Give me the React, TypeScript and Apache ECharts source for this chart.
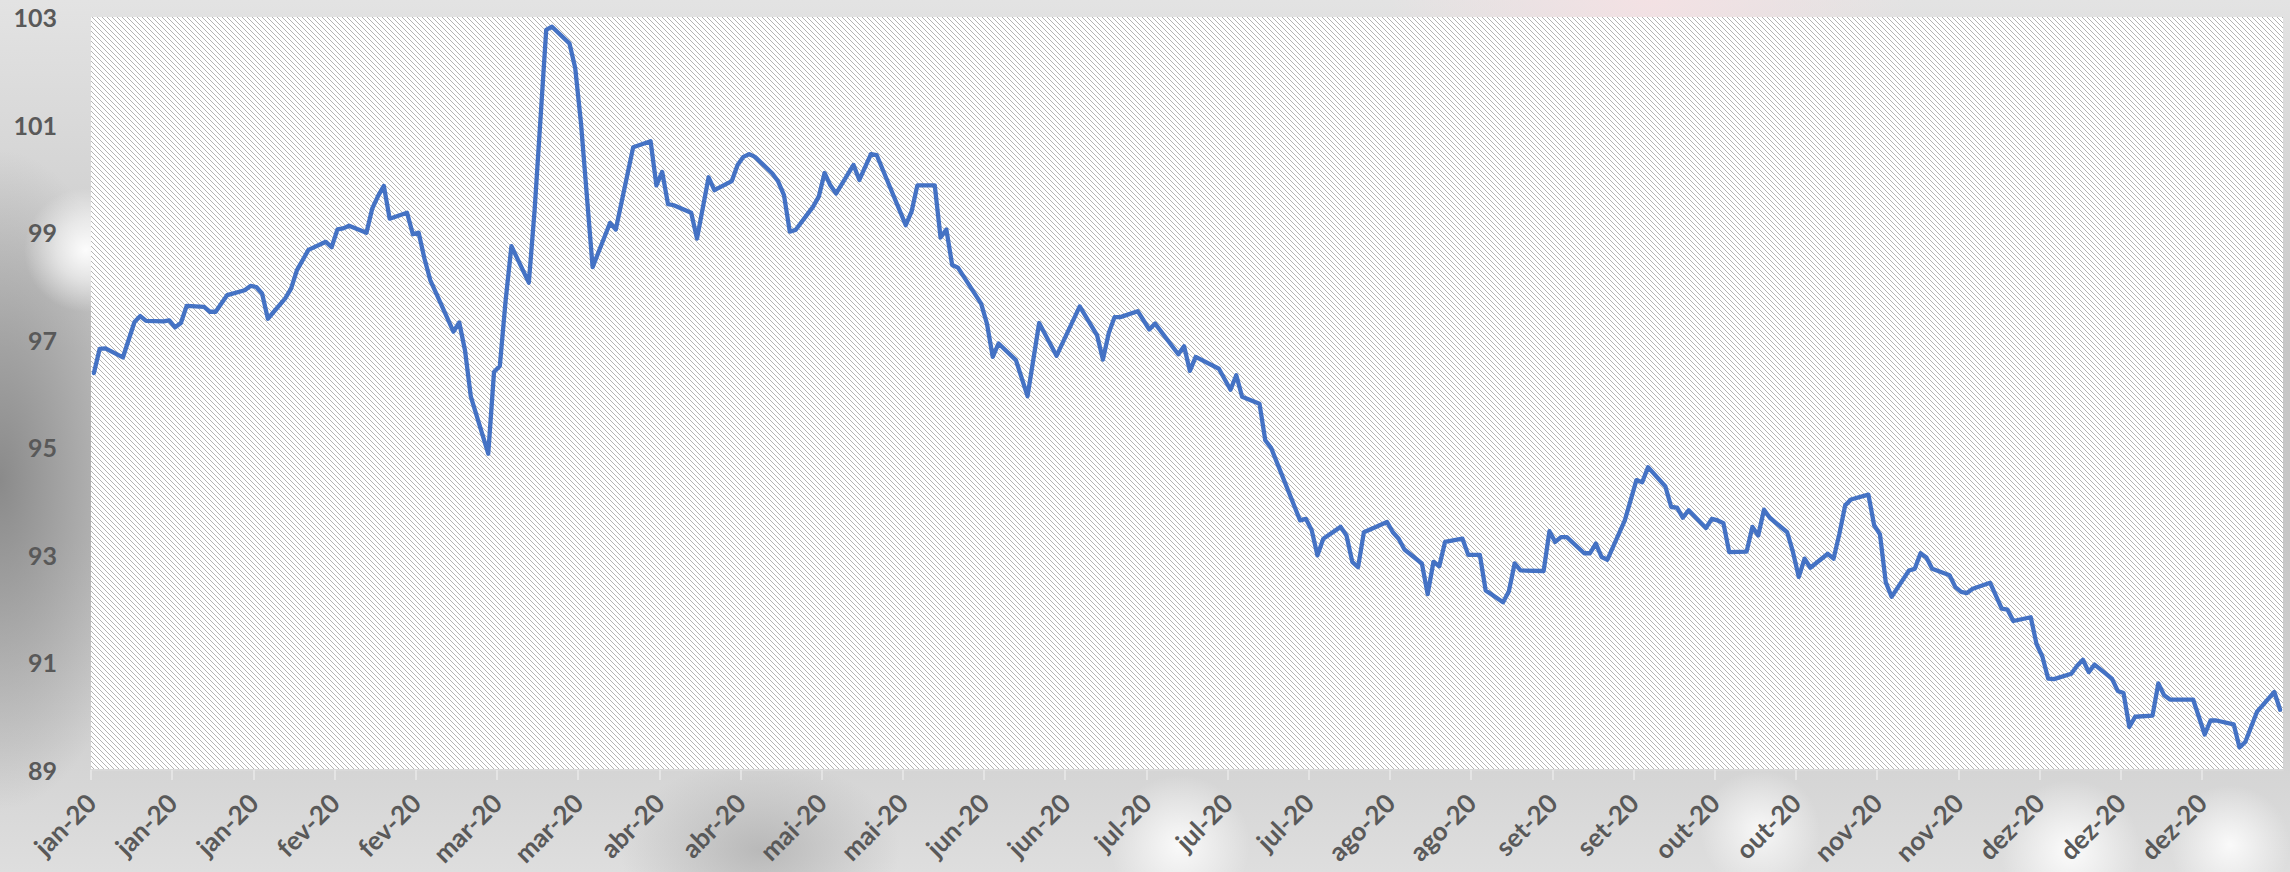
import React, { useEffect, useRef } from "react";
import * as echarts from "echarts";

// ---- data ----
const DATES: string[] = [
  "2020-01-01","2020-01-02","2020-01-03","2020-01-06","2020-01-08","2020-01-09","2020-01-10","2020-01-13","2020-01-14","2020-01-15",
  "2020-01-16","2020-01-17","2020-01-20","2020-01-21","2020-01-22","2020-01-24","2020-01-27","2020-01-28","2020-01-29","2020-01-30",
  "2020-01-31","2020-02-03","2020-02-04","2020-02-05","2020-02-07","2020-02-10","2020-02-11","2020-02-12","2020-02-13","2020-02-14",
  "2020-02-17","2020-02-18","2020-02-19","2020-02-20","2020-02-21","2020-02-24","2020-02-25","2020-02-26","2020-02-27","2020-02-28",
  "2020-03-03","2020-03-04","2020-03-05","2020-03-06","2020-03-09","2020-03-10","2020-03-11","2020-03-12","2020-03-13","2020-03-16",
  "2020-03-17","2020-03-19","2020-03-20","2020-03-23","2020-03-24","2020-03-25","2020-03-27","2020-03-30","2020-03-31","2020-04-03",
  "2020-04-06","2020-04-07","2020-04-08","2020-04-09","2020-04-10","2020-04-13","2020-04-14","2020-04-16","2020-04-17","2020-04-20",
  "2020-04-21","2020-04-22","2020-04-23","2020-04-24","2020-04-27","2020-04-28","2020-04-29","2020-04-30","2020-05-01","2020-05-04",
  "2020-05-05","2020-05-06","2020-05-07","2020-05-08","2020-05-11","2020-05-12","2020-05-14","2020-05-15","2020-05-20","2020-05-21",
  "2020-05-22","2020-05-25","2020-05-26","2020-05-27","2020-05-28","2020-05-29","2020-06-02","2020-06-03","2020-06-04","2020-06-05",
  "2020-06-08","2020-06-10","2020-06-12","2020-06-15","2020-06-19","2020-06-22","2020-06-23","2020-06-24","2020-06-25","2020-06-26",
  "2020-06-29","2020-07-01","2020-07-02","2020-07-06","2020-07-07","2020-07-08","2020-07-09","2020-07-13","2020-07-15","2020-07-16",
  "2020-07-17","2020-07-20","2020-07-21","2020-07-22","2020-07-27","2020-07-28","2020-07-29","2020-07-30","2020-07-31","2020-08-03",
  "2020-08-04","2020-08-05","2020-08-06","2020-08-07","2020-08-11","2020-08-12","2020-08-13","2020-08-14","2020-08-17","2020-08-18",
  "2020-08-19","2020-08-20","2020-08-21","2020-08-24","2020-08-25","2020-08-27","2020-08-28","2020-08-31","2020-09-01","2020-09-02",
  "2020-09-03","2020-09-07","2020-09-08","2020-09-09","2020-09-10","2020-09-11","2020-09-14","2020-09-15","2020-09-16","2020-09-17",
  "2020-09-18","2020-09-21","2020-09-23","2020-09-24","2020-09-25","2020-09-28","2020-09-29","2020-09-30","2020-10-01","2020-10-02",
  "2020-10-05","2020-10-06","2020-10-07","2020-10-08","2020-10-09","2020-10-12","2020-10-13","2020-10-14","2020-10-15","2020-10-16",
  "2020-10-19","2020-10-20","2020-10-21","2020-10-22","2020-10-23","2020-10-26","2020-10-27","2020-10-28","2020-10-29","2020-10-30",
  "2020-11-02","2020-11-03","2020-11-04","2020-11-05","2020-11-06","2020-11-09","2020-11-10","2020-11-11","2020-11-12","2020-11-13",
  "2020-11-16","2020-11-17","2020-11-18","2020-11-19","2020-11-20","2020-11-23","2020-11-25","2020-11-26","2020-11-27","2020-11-30",
  "2020-12-01","2020-12-02","2020-12-03","2020-12-04","2020-12-07","2020-12-08","2020-12-09","2020-12-10","2020-12-11","2020-12-14",
  "2020-12-15","2020-12-16","2020-12-17","2020-12-18","2020-12-21","2020-12-22","2020-12-23","2020-12-24","2020-12-28","2020-12-30",
  "2020-12-31","2021-01-01","2021-01-04","2021-01-05","2021-01-06","2021-01-08","2021-01-11","2021-01-12"
];

const VALUES: number[] = [
  96.38, 96.83, 96.84, 96.67, 97.33, 97.44, 97.35, 97.34, 97.36, 97.23,
  97.31, 97.63, 97.61, 97.52, 97.52, 97.83, 97.92, 98.00, 97.98, 97.86,
  97.39, 97.77, 97.95, 98.29, 98.67, 98.82, 98.72, 99.05, 99.07, 99.12,
  98.99, 99.44, 99.67, 99.86, 99.25, 99.36, 98.96, 98.99, 98.51, 98.11,
  97.15, 97.32, 96.80, 95.94, 94.88, 96.40, 96.51, 97.73, 98.74, 98.06,
  99.41, 102.76, 102.82, 102.51, 102.05, 101.02, 98.35, 99.17, 99.05, 100.58,
  100.69, 99.87, 100.12, 99.52, 99.50, 99.36, 98.88, 100.02, 99.78, 99.95,
  100.25, 100.40, 100.45, 100.40, 100.09, 99.94, 99.69, 99.01, 99.04, 99.47,
  99.66, 100.10, 99.87, 99.72, 100.25, 99.97, 100.45, 100.43, 99.13, 99.38,
  99.87, 99.87, 98.90, 99.05, 98.39, 98.34, 97.67, 97.30, 96.68, 96.93,
  96.62, 95.95, 97.31, 96.70, 97.62, 97.08, 96.63, 97.12, 97.42, 97.42,
  97.53, 97.19, 97.30, 96.73, 96.88, 96.42, 96.68, 96.46, 96.07, 96.34,
  95.94, 95.81, 95.13, 94.99, 93.64, 93.67, 93.46, 92.99, 93.30, 93.52,
  93.36, 92.87, 92.77, 93.42, 93.61, 93.42, 93.30, 93.10, 92.84, 92.27,
  92.87, 92.79, 93.24, 93.30, 93.00, 93.00, 92.34, 92.12, 92.32, 92.84,
  92.71, 92.70, 93.44, 93.24, 93.33, 93.33, 93.03, 93.03, 93.21, 92.96,
  92.91, 93.64, 94.39, 94.35, 94.63, 94.27, 93.89, 93.88, 93.69, 93.83,
  93.50, 93.67, 93.64, 93.59, 93.05, 93.06, 93.52, 93.36, 93.84, 93.69,
  93.42, 93.05, 92.59, 92.93, 92.76, 93.02, 92.93, 93.39, 93.92, 94.03,
  94.12, 93.55, 93.38, 92.49, 92.22, 92.71, 92.74, 93.03, 92.95, 92.74,
  92.62, 92.40, 92.31, 92.29, 92.37, 92.48, 92.00, 91.98, 91.77, 91.84,
  91.34, 91.11, 90.70, 90.69, 90.79, 90.94, 91.05, 90.82, 90.96, 90.70,
  90.47, 90.43, 89.80, 89.99, 90.01, 90.61, 90.39, 90.31, 90.31, 89.66,
  89.92, 89.92, 89.85, 89.42, 89.52, 90.08, 90.45, 90.12
];

const MONTHS_PT: string[] = ["jan", "fev", "mar", "abr", "mai", "jun", "jul", "ago", "set", "out", "nov", "dez"];

const AXIS_START = "2020-01-01";
const AXIS_SPAN_DAYS = 378;
const AXIS_STEP_DAYS = 14;
const Y_MIN = 89;
const Y_MAX = 103;
const Y_STEP = 2;

const DAY_MS = 86400000;
const toUTC = (s: string) => {
  const [y, m, d] = s.split("-").map(Number);
  return Date.UTC(y, m - 1, d);
};
const START_MS = toUTC(AXIS_START);
const dayIndex = (s: string) => Math.round((toUTC(s) - START_MS) / DAY_MS);

const tickLabel = (v: number) => {
  if (v >= AXIS_SPAN_DAYS) return "";
  const dt = new Date(START_MS + v * DAY_MS);
  const yy = String(dt.getUTCFullYear()).slice(2);
  return MONTHS_PT[dt.getUTCMonth()] + "-" + yy;
};

function makeHatch(): string {
  const n = 5;
  const c = document.createElement("canvas");
  c.width = n;
  c.height = n;
  const ctx = c.getContext("2d")!;
  ctx.fillStyle = "#ffffff";
  ctx.fillRect(0, 0, n, n);
  ctx.fillStyle = "#b4b4b4";
  for (let i = 0; i < n; i++) ctx.fillRect(i, i, 1, 1);
  return c.toDataURL();
}

const BG = [
  "radial-gradient(circle at 86px 250px, rgba(255,255,255,0.95) 0px, rgba(255,255,255,0.55) 30px, rgba(255,255,255,0) 62px)",
  "radial-gradient(circle at 1180px 845px, rgba(255,255,255,0.85) 0px, rgba(255,255,255,0) 70px)",
  "radial-gradient(circle at 1760px 830px, rgba(255,255,255,0.8) 0px, rgba(255,255,255,0) 60px)",
  "radial-gradient(circle at 2070px 850px, rgba(255,255,255,0.9) 0px, rgba(255,255,255,0) 70px)",
  "radial-gradient(circle at 2230px 845px, rgba(255,255,255,0.85) 0px, rgba(255,255,255,0) 60px)",
  "radial-gradient(ellipse at 1650px 0px, rgba(245,225,228,0.9) 0px, rgba(245,225,228,0) 260px)",
  "radial-gradient(ellipse 150px 330px at 0px 480px, rgba(135,135,135,0.95) 0px, rgba(150,150,150,0) 100%)",
  "radial-gradient(ellipse 140px 90px at 760px 850px, rgba(170,170,170,0.7) 0px, rgba(170,170,170,0) 100%)",
  "linear-gradient(180deg, #e3e3e3 0%, #d9d9d9 14%, #c6c6c6 40%, #c6c6c6 62%, #d2d2d2 85%, #dedede 100%)",
].join(",");

export default function App() {
  const ref = useRef<HTMLDivElement>(null);

  useEffect(() => {
    document.body.style.margin = "0";
    if (!ref.current) return;
    const chart = echarts.init(ref.current, undefined, { renderer: "svg" });
    const hatch = makeHatch();
    const data = DATES.map((d, i) => [dayIndex(d) + 0.5, VALUES[i]]);
    const labelBase = {
      fontFamily: "Lato",
      fontWeight: "bold" as const,
      color: "#595959",
    };
    chart.setOption({
      animation: false,
      backgroundColor: "transparent",
      grid: {
        left: 91,
        top: 17,
        right: 7,
        bottom: 102,
        show: true,
        borderWidth: 0,
        backgroundColor: { image: hatch, repeat: "repeat", imageWidth: 5, imageHeight: 5 } as any,
        containLabel: false,
        outerBoundsMode: "none",
      },
      xAxis: {
        type: "value",
        min: 0,
        max: AXIS_SPAN_DAYS,
        interval: AXIS_STEP_DAYS,
        axisLine: { show: true, lineStyle: { color: "#d9d9d9", width: 2 } },
        axisTick: { show: true, length: 10, lineStyle: { color: "#e8e8e8", width: 1.5 } },
        splitLine: { show: false },
        axisLabel: {
          ...labelBase,
          fontSize: 26,
          rotate: 45,
          margin: 28,
          showMaxLabel: false,
          formatter: (v: number) => tickLabel(v),
        },
      },
      yAxis: {
        type: "value",
        min: Y_MIN,
        max: Y_MAX,
        interval: Y_STEP,
        axisLine: { show: false },
        axisTick: { show: false },
        splitLine: { show: false },
        axisLabel: { ...labelBase, fontSize: 25, margin: 34 },
      },
      series: [
        {
          type: "line",
          data,
          showSymbol: false,
          symbol: "none",
          lineStyle: { color: "#4472C4", width: 4.3, join: "round", cap: "round" },
        },
      ],
    });
    return () => chart.dispose();
  }, []);

  return (
    <div style={{ width: 2290, height: 872, background: BG, overflow: "hidden" }}>
      <div ref={ref} style={{ width: 2290, height: 872 }} />
    </div>
  );
}
